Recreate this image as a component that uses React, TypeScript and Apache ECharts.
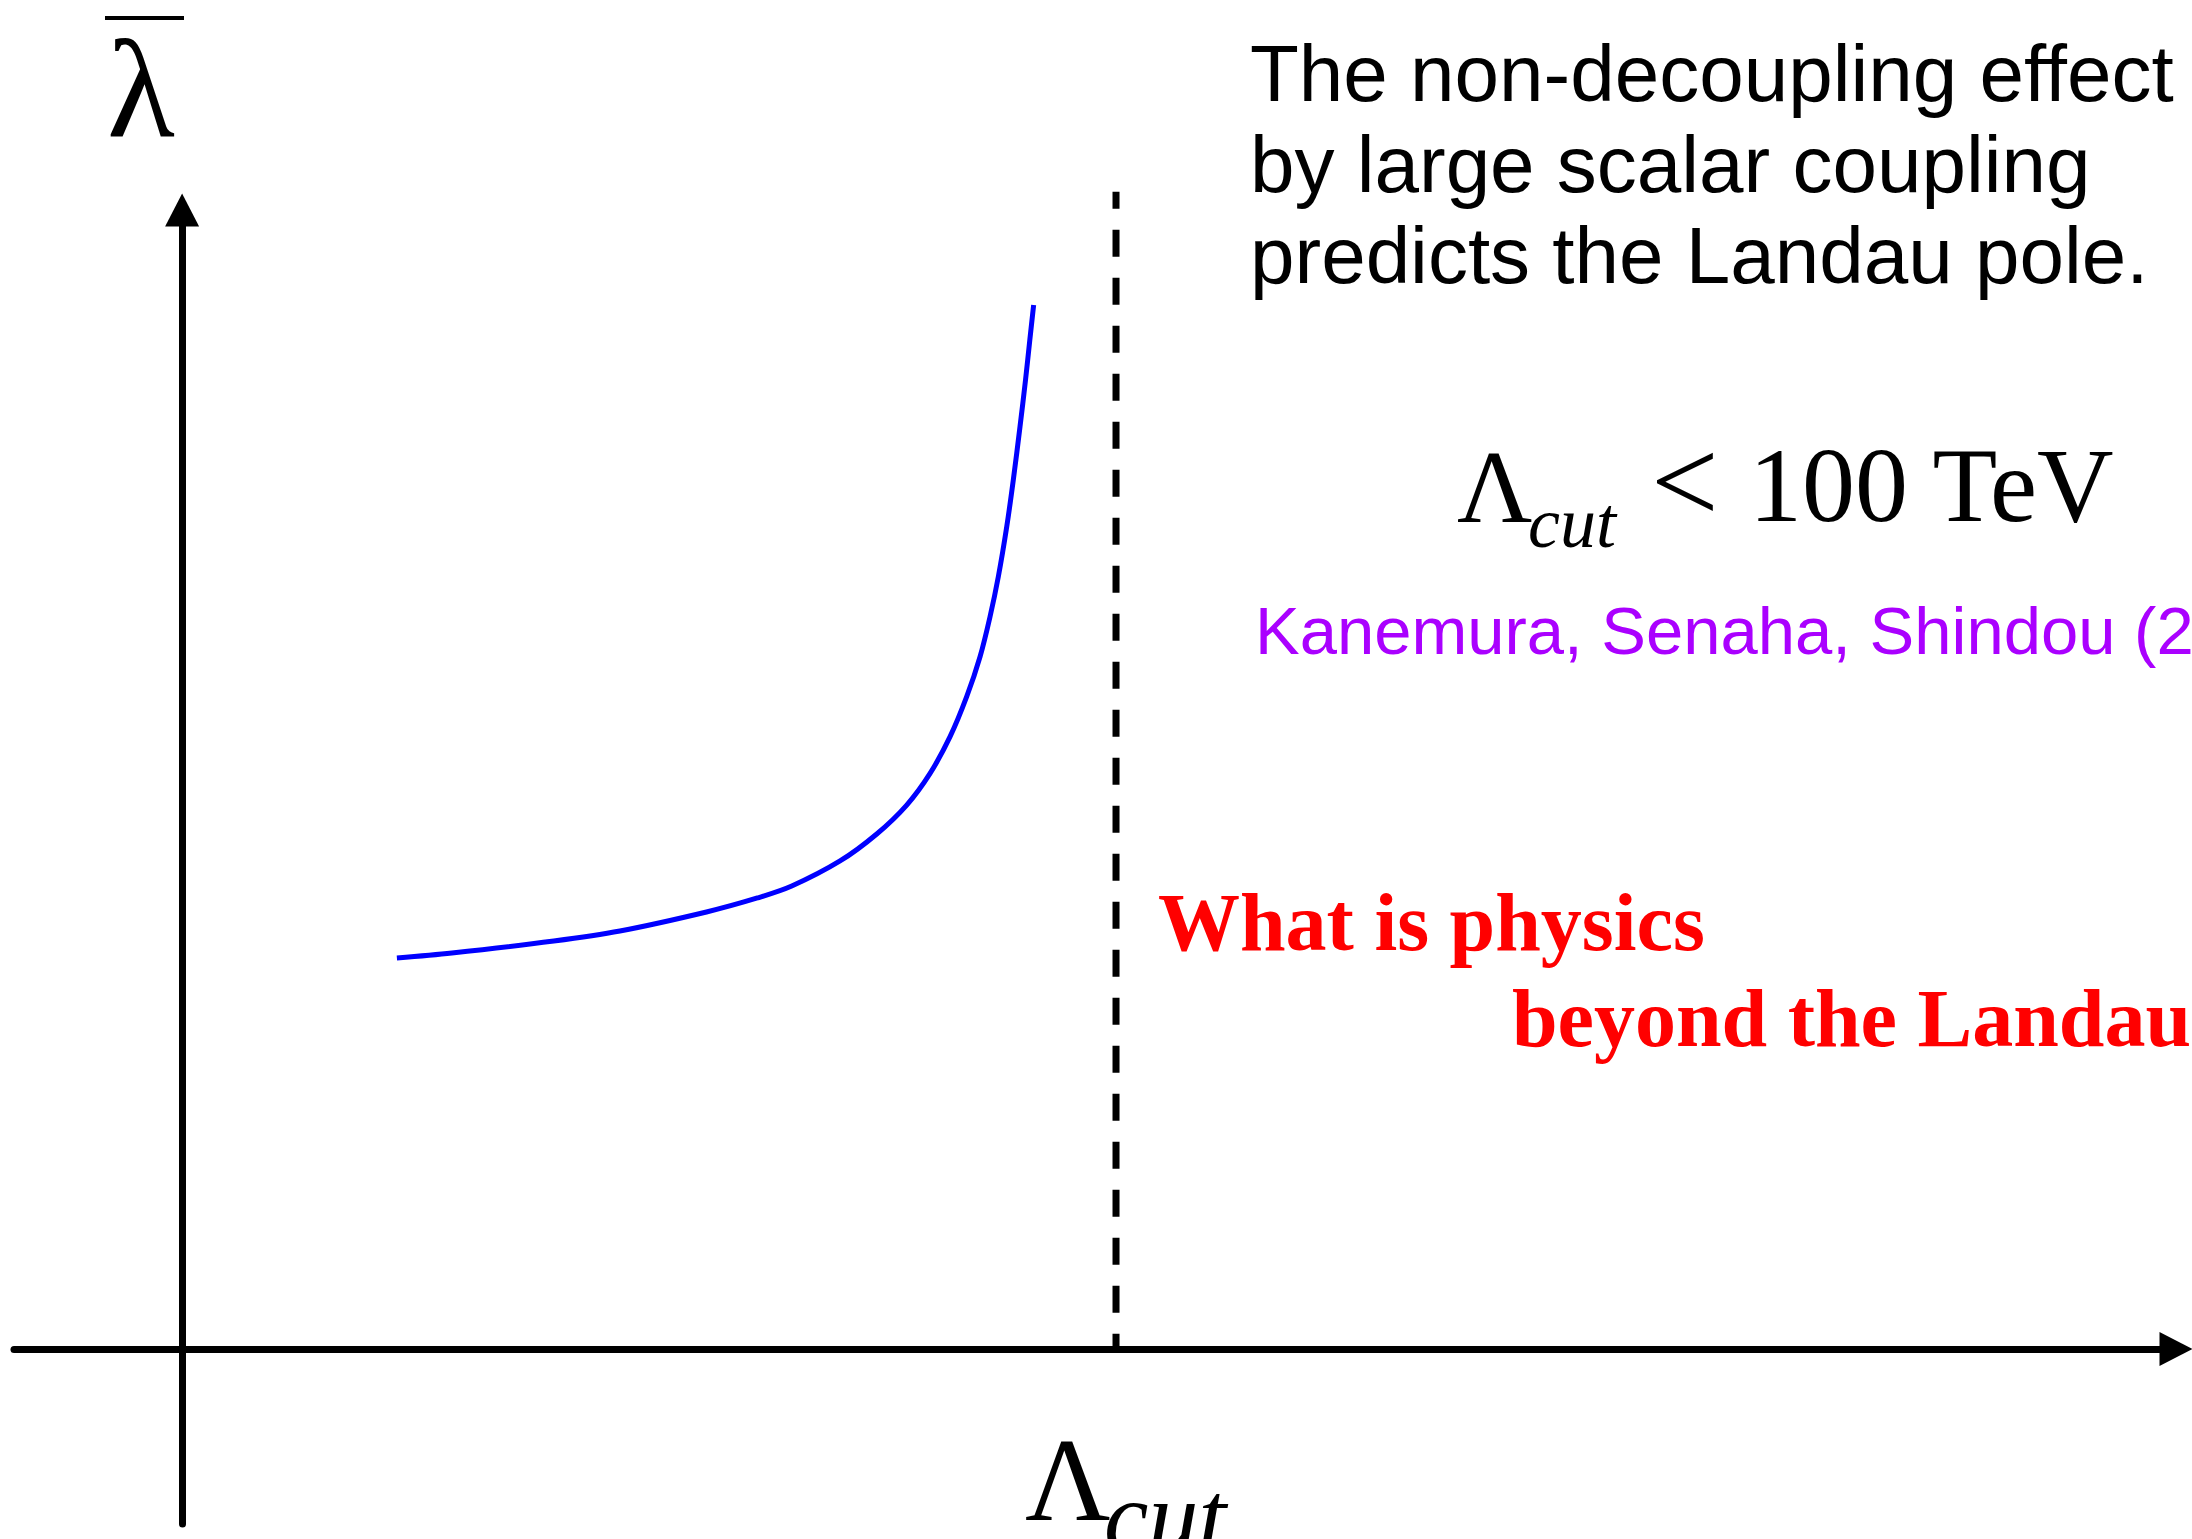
import React, { useEffect, useRef } from "react";
import * as echarts from "echarts";

// Energy scale (in units of the cut-off Λ_cut) and the coupling λ̄
const cutoffScale = [0.2300, 0.2889, 0.3980, 0.4688, 0.5615, 0.6160, 0.6528, 0.7045, 0.7438, 0.7759, 0.8009, 0.8223, 0.8401, 0.8544, 0.8651, 0.8740, 0.8830, 0.8900, 0.8972, 0.9031, 0.9077, 0.9118];
const couplingBar = [0.3433, 0.3477, 0.3582, 0.3670, 0.3837, 0.3960, 0.4065, 0.4285, 0.4522, 0.4776, 0.5054, 0.5376, 0.5727, 0.6078, 0.6429, 0.6781, 0.7220, 0.7629, 0.8098, 0.8507, 0.8859, 0.9166];
const landauCut = 1.0;
const dashedTop = 1.016;
const xRange = [-0.18, 2.135];
const yRange = [-0.1536, 1.0];

const noteLines = ["The non-decoupling effect", "by large scalar coupling", "predicts the Landau pole."];
const citation = "Kanemura, Senaha, Shindou (2";
const questionLines = ["What is physics", "beyond the Landau"];

const SANS = '"Liberation Sans", Arial, sans-serif';
const SERIF = '"Liberation Serif", "Times New Roman", serif';

function txt(text: string, x: number, y: number, font: string, fill: string) {
  return {
    type: "text",
    x,
    y,
    silent: true,
    style: {
      text,
      font,
      fill,
      align: "left",
      verticalAlign: "middle",
      textAlign: "left",
      textVerticalAlign: "middle",
    },
  };
}

export default function App() {
  const ref = useRef<HTMLDivElement>(null);
  useEffect(() => {
    if (!ref.current) return;
    const chart = echarts.init(ref.current, null, { renderer: "svg" });
    const curve = cutoffScale.map((x, i) => [x, couplingBar[i]]);
    const axisLine = {
      show: true,
      onZero: true,
      symbol: ["none", "triangle"],
      symbolSize: [34, 33],
      lineStyle: { color: "#000", width: 7 },
    };
    chart.setOption({
      animation: false,
      backgroundColor: "#ffffff",
      grid: { left: 14, right: 16, top: 210, bottom: 15, containLabel: false, outerBoundsMode: "none" },
      xAxis: {
        type: "value",
        min: xRange[0],
        max: xRange[1],
        axisLine,
        axisTick: { show: false },
        axisLabel: { show: false },
        splitLine: { show: false },
      },
      yAxis: {
        type: "value",
        min: yRange[0],
        max: yRange[1],
        axisLine,
        axisTick: { show: false },
        axisLabel: { show: false },
        splitLine: { show: false },
      },
      series: [
        {
          type: "line",
          data: curve,
          smooth: 0.33,
          symbol: "none",
          lineStyle: { color: "#0000ff", width: 5, cap: "butt", join: "round" },
          z: 3,
        },
        {
          type: "line",
          data: [
            [landauCut, dashedTop],
            [landauCut, 0],
          ],
          symbol: "none",
          clip: false,
          lineStyle: { color: "#000", width: 7, type: [27, 21], dashOffset: 10 },
          z: 2,
        },
      ],
      graphic: {
        elements: [
          // λ̄ axis name
          { type: "line", silent: true, shape: { x1: 105, y1: 18, x2: 184, y2: 18 }, style: { stroke: "#000", lineWidth: 4 } },
          txt("λ", 107, 88, `140px ${SERIF}`, "#000"),
          // Λ_cut axis label
          txt("Λ", 1025, 1480, `118px ${SERIF}`, "#000"),
          txt("cut", 1104, 1516, `italic 100px ${SERIF}`, "#000"),
          // note
          txt(noteLines[0], 1250, 73, `80px ${SANS}`, "#000"),
          txt(noteLines[1], 1250, 164, `80px ${SANS}`, "#000"),
          txt(noteLines[2], 1250, 255, `80px ${SANS}`, "#000"),
          // formula
          txt("Λ", 1457, 486, `104px ${SERIF}`, "#000"),
          txt("cut", 1528, 523, `italic 72px ${SERIF}`, "#000"),
          txt("<", 1651, 481, `120px ${SERIF}`, "#000"),
          txt("100 TeV", 1749, 485, `106px ${SERIF}`, "#000"),
          // citation
          txt(citation, 1255, 630, `67px ${SANS}`, "#aa00ff"),
          // question
          txt(questionLines[0], 1158, 922, `bold 82px ${SERIF}`, "#ff0000"),
          txt(questionLines[1], 1512, 1018, `bold 82px ${SERIF}`, "#ff0000"),
        ],
      },
    });
    return () => chart.dispose();
  }, []);
  return (
    <div
      ref={ref}
      style={{ position: "absolute", left: 0, top: 0, width: 2192, height: 1539, background: "#fff" }}
    />
  );
}
